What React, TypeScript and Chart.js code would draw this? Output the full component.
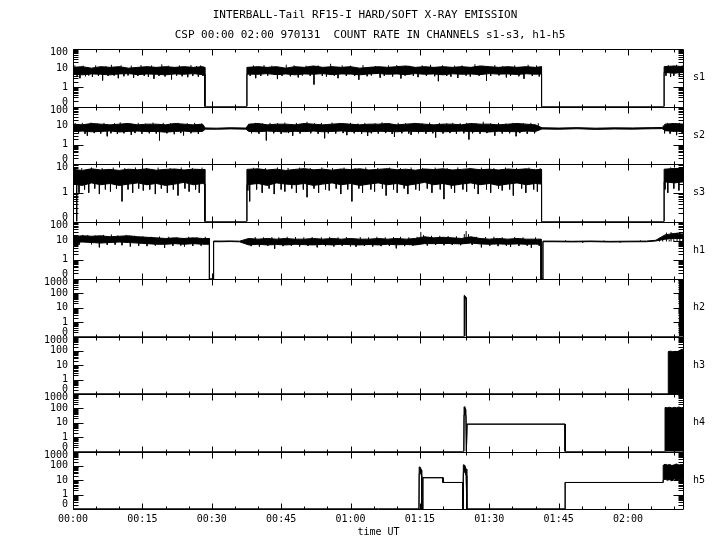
import React, { useEffect, useRef } from "react";
import { Chart, registerables } from "chart.js";

Chart.register(...registerables);

const FONT = "'DejaVu Sans Mono', 'Liberation Mono', monospace";

const TITLE_1 = "INTERBALL-Tail RF15-I HARD/SOFT X-RAY EMISSION";
const TITLE_2 = "CSP 00:00 02:00 970131  COUNT RATE IN CHANNELS s1-s3, h1-h5";
const X_TITLE = "time UT";

// x axis: minutes after 00:00 UT
const xTicks = [0, 15, 30, 45, 60, 75, 90, 105, 120];
const xTickLabels = ["00:00", "00:15", "00:30", "00:45", "01:00", "01:15", "01:30", "01:45", "02:00"];
const X_MAX = 132.1;

// channel names and their log10 axis ranges (min -1 stands for the "0" level)
const channelNames = ["s1", "s2", "s3", "h1", "h2", "h3", "h4", "h5"];
const axisMin = [-1, -1, -1, -1, -1, -1, -1, -1];
const axisMax = [2, 2, 1, 2, 3, 3, 3, 3];

// ---- s1 ----
const s1Time = [0, 2, 4, 6, 8, 10, 12, 14, 16, 18, 20, 22, 24, 26, 28, 28.5, 28.5, 37.6, 37.6, 40, 42, 44, 46, 48, 50, 52, 54, 56, 58, 60, 62, 64, 66, 68, 70, 72, 74, 76, 78, 80, 82, 84, 86, 88, 90, 92, 94, 96, 98, 100, 101.3, 101.3, 127.8, 127.8, 130, 132.1];
const s1High = [11, 12, 10, 12, 11, 12, 10, 11, 12, 11, 12, 11, 12, 11, 12, 11, 0, 0, 11, 12, 11, 12, 10, 12, 11, 13, 11, 12, 11, 12, 10, 11, 12, 11, 12, 13, 11, 12, 11, 12, 11, 12, 11, 13, 12, 11, 12, 11, 12, 11, 12, 0, 0, 12, 13, 12];
const s1Low = [5, 4.5, 5, 4.8, 4.5, 5, 5.2, 4.6, 5, 4.8, 4.5, 5, 4.8, 5.2, 4.6, 5, 0, 0, 5, 4.8, 5.2, 4.6, 5, 4.5, 5, 4.8, 5.2, 4.6, 5, 4.9, 4.5, 5, 5.3, 4.8, 5, 4.6, 5.2, 4.8, 5, 4.5, 5.1, 4.8, 5, 4.6, 5.2, 4.9, 5, 4.7, 5.1, 4.8, 5, 0, 0, 6, 5.5, 6];
// single-sample excursions: [minute, count rate]
const s1Spikes: [number, number][] = [
  [0.4, 14], [0.9, 4], [1.5, 3], [2.2, 13.5], [2.7, 3.8], [3.4, 4.2], [4.2, 3.5], [4.9, 14], [5.5, 4], [6.4, 2.3],
  [7.1, 13], [7.6, 3.9], [8.3, 15], [8.9, 4.1], [9.8, 3], [10.4, 14], [11.0, 3.8], [11.9, 4.2], [12.6, 13.5], [13.1, 3.2],
  [14.0, 3.9], [14.7, 14.5], [15.4, 4], [16.3, 3.6], [17.0, 14], [17.5, 2.8], [18.6, 4], [19.2, 16], [19.9, 3.7], [20.6, 13.5],
  [21.3, 2.6], [22.4, 4.1], [23.0, 14], [23.6, 3.8], [24.8, 3.4], [25.5, 14.5], [25.9, 4], [26.7, 13], [27.1, 3.6], [27.6, 14], [28.1, 3.9],
  [38.3, 4], [39.0, 14], [39.5, 3], [40.6, 3.9], [41.3, 14.5], [42.1, 4.1], [43.0, 13.5], [44.2, 2.7], [45.2, 4], [46.1, 15],
  [47.0, 3.8], [47.8, 14], [48.7, 3.3], [49.6, 4.2], [50.4, 13.5], [51.3, 3.9], [52.1, 1.4], [53.0, 14], [53.9, 4], [54.8, 3.7],
  [55.7, 17], [56.5, 4.1], [57.3, 3], [58.2, 14], [59.1, 3.9], [60.0, 13.5], [60.9, 4], [61.8, 2.5], [62.7, 14.5], [63.6, 3.8],
  [64.5, 4.2], [65.4, 13], [66.4, 3.2], [67.3, 4], [68.2, 14], [69.1, 3.7], [70.0, 14.5], [70.9, 2.9], [71.8, 4.1], [72.7, 13.5],
  [73.6, 3.9], [74.6, 3.4], [75.5, 14], [76.4, 4], [77.3, 15], [78.2, 3.8], [79.0, 2.1], [79.9, 14], [80.8, 4], [81.7, 3.6],
  [82.5, 13.5], [83.2, 3.1], [84.1, 14], [85.0, 4.1], [85.9, 3.7], [86.9, 16], [87.8, 4], [88.6, 13.5], [89.4, 2.2], [90.3, 3.9],
  [91.2, 14.5], [92.1, 4.2], [92.9, 13], [93.7, 3.3], [94.6, 4], [95.5, 14], [96.4, 3.8], [97.5, 2.8], [98.4, 15], [99.3, 4],
  [100.2, 14], [100.8, 3.7],
  [128.2, 4], [128.7, 14.5], [129.2, 3.5], [129.9, 4], [130.5, 15], [131.1, 3.8], [131.7, 14],
];
const s1Level = 7;

// ---- s2 ----
const s2Time = [0, 2, 4, 6, 8, 10, 12, 14, 16, 18, 20, 22, 24, 26, 28, 28.6, 31, 34, 37.4, 38, 40, 42, 44, 46, 48, 50, 52, 54, 56, 58, 60, 62, 64, 66, 68, 70, 72, 74, 76, 78, 80, 82, 84, 86, 88, 90, 92, 94, 96, 98, 100, 101.4, 105, 109, 113, 117, 121, 125, 127.4, 128, 130, 132.1];
const s2High = [12, 11, 13, 12, 11, 12, 13, 11, 12, 12, 11, 13, 12, 11, 12, 7.6, 7.4, 7.8, 7.5, 12, 13, 11, 12, 12, 11, 13, 12, 11, 12, 13, 12, 11, 12, 12, 13, 11, 12, 13, 12, 11, 12, 12, 11, 13, 12, 12, 11, 12, 13, 12, 11, 7.8, 7.5, 7.9, 7.4, 7.7, 7.6, 7.9, 8, 12, 13, 12];
const s2Low = [5, 5.2, 4.8, 5, 5.3, 4.7, 5, 5.2, 4.9, 5, 4.6, 5, 5.2, 4.8, 5, 6.6, 6.5, 6.8, 6.6, 5, 4.8, 5.2, 5, 4.7, 5.1, 4.9, 5.2, 4.8, 5, 5.3, 4.9, 5, 4.7, 5.1, 5, 4.8, 5.2, 5, 4.9, 5.1, 4.8, 5, 5.2, 4.9, 5, 4.7, 5.1, 5, 4.8, 5.2, 5, 6.7, 6.5, 6.9, 6.4, 6.7, 6.6, 6.9, 7, 5.5, 5, 5.5];
const s2Spikes: [number, number][] = [
  [0.5, 13.5], [1.2, 4], [2.0, 14], [2.6, 3.8], [3.1, 3], [3.9, 14.5], [4.6, 4.1], [5.3, 13], [6.0, 3.9], [6.7, 14],
  [7.4, 2.8], [8.2, 4], [9.0, 13.5], [9.6, 3.7], [10.2, 15], [11.0, 4], [11.8, 13.5], [12.6, 3.3], [13.4, 4.1], [14.1, 14],
  [14.9, 3.8], [15.7, 13], [16.5, 4], [17.3, 14.5], [18.0, 3.9], [18.7, 1.7], [19.5, 14], [20.3, 4], [21.1, 13.5], [21.9, 3.6],
  [22.7, 14], [23.3, 4.1], [23.9, 3.1], [24.7, 13.5], [25.5, 4], [26.3, 14], [27.1, 3.8], [27.8, 13],
  [38.6, 4], [39.4, 14], [40.2, 3.8], [41.0, 13.5], [41.8, 1.7], [42.6, 14], [43.4, 4], [44.2, 13.5], [45.0, 3.7], [45.8, 14.5],
  [46.6, 4.1], [47.5, 3], [48.3, 14], [49.1, 3.9], [49.9, 13], [50.6, 16], [51.4, 4], [52.2, 13.5], [53.0, 3.8], [53.7, 14],
  [54.4, 2.2], [55.2, 4], [56.0, 14.5], [56.8, 3.9], [57.6, 13.5], [58.4, 4.1], [59.2, 3.2], [60.0, 14], [60.8, 4], [61.6, 13],
  [62.4, 3.8], [63.1, 14], [63.7, 2.9], [64.5, 4], [65.3, 13.5], [66.0, 3.9], [66.8, 15], [67.6, 4.1], [68.4, 13.5], [69.0, 3.7],
  [69.5, 2.6], [70.3, 14], [71.1, 4], [71.9, 13.5], [72.6, 3.9], [73.1, 3.3], [73.9, 14], [74.7, 4], [75.5, 13], [76.3, 3.8],
  [77.1, 14.5], [77.8, 4], [78.4, 2.4], [79.2, 14], [80.0, 3.9], [80.8, 13.5], [81.5, 4.1], [82.1, 14], [82.9, 3.8], [83.7, 13.5],
  [84.5, 4], [85.1, 14], [85.6, 1.9], [86.4, 4], [87.2, 13.5], [88.0, 3.8], [88.7, 16], [89.5, 4.1], [90.3, 13.5], [91.2, 3],
  [92.0, 14], [92.8, 3.9], [93.6, 13], [94.4, 4], [95.1, 14], [95.8, 2.8], [96.6, 4.1], [97.4, 13.5], [98.2, 3.8], [99.0, 14],
  [99.8, 4], [100.6, 13.5],
  [127.9, 4], [128.5, 14], [129.1, 3.8], [129.7, 13.5], [130.5, 3.2], [131.1, 14], [131.7, 4],
];
const s2Level = 7;

// ---- s3 ----
const s3Time = [0, 2, 4, 6, 8, 10, 12, 14, 16, 18, 20, 22, 24, 26, 28, 28.5, 28.5, 37.6, 37.6, 40, 42, 44, 46, 48, 50, 52, 54, 56, 58, 60, 62, 64, 66, 68, 70, 72, 74, 76, 78, 80, 82, 84, 86, 88, 90, 92, 94, 96, 98, 100, 101.3, 101.3, 127.8, 127.8, 130, 132.1];
const s3High = [6.5, 6, 6.8, 6.2, 6.5, 6, 6.6, 6.3, 6.8, 6.1, 6.5, 6.7, 6.2, 6.6, 6.4, 6.5, 0, 0, 6.5, 6.8, 6.2, 6.6, 6, 6.5, 6.9, 6.3, 6.6, 6.1, 6.7, 6.4, 6.8, 6.2, 6.5, 6.9, 6.3, 6.6, 6.1, 6.7, 6.4, 6.8, 6.2, 6.5, 6.9, 6.3, 6.6, 6.2, 6.7, 6.4, 6.8, 6.3, 6.5, 0, 0, 6.6, 7, 6.8];
const s3Low = [2, 1.8, 2.2, 1.9, 2.1, 1.8, 2, 2.2, 1.9, 2.1, 1.8, 2, 2.3, 1.9, 2.1, 2, 0, 0, 1.9, 2.1, 1.8, 2.2, 2, 1.9, 2.1, 1.8, 2, 2.2, 1.9, 2.1, 1.8, 2, 2.2, 1.9, 2.1, 1.8, 2, 2.3, 1.9, 2.1, 1.8, 2, 2.2, 1.9, 2.1, 1.8, 2, 2.2, 1.9, 2.1, 2, 0, 0, 2.4, 2.2, 2.4];
const s3Spikes: [number, number][] = [
  [0.4, 7.5], [0.8, 0], [1.3, 1], [1.9, 7.2], [2.5, 1.3], [3.4, 1], [4.0, 7.6], [4.7, 1.4], [5.7, 0.9], [6.3, 7.3],
  [7.0, 1.3], [8.1, 1.1], [8.7, 7.5], [9.4, 1.4], [10.6, 0.5], [11.2, 7.2], [11.9, 1.3], [12.9, 1], [13.5, 7.6], [14.2, 1.4],
  [15.2, 1.2], [15.9, 7.3], [16.6, 1.3], [17.8, 0.9], [18.4, 7.5], [19.1, 1.4], [20.4, 1], [21.0, 7.2], [21.7, 1.3], [22.7, 0.8],
  [23.4, 7.6], [24.2, 1.4], [25.1, 1.1], [25.8, 7.3], [26.5, 1.3], [27.3, 1], [27.9, 7.5],
  [37.8, 1.2], [38.2, 0.5], [39.0, 7.4], [39.7, 1.3], [40.9, 1], [41.6, 7.2], [42.4, 1.4], [43.5, 0.9], [44.2, 7.6], [45.0, 1.3],
  [45.8, 1.1], [46.5, 7.3], [47.3, 1.4], [48.3, 1], [49.0, 7.5], [49.8, 1.3], [50.6, 0.7], [51.3, 7.2], [52.1, 1.4], [53.1, 1],
  [53.8, 7.6], [54.6, 1.3], [55.4, 1.2], [56.1, 7.3], [56.9, 1.4], [57.9, 0.9], [58.6, 7.5], [59.4, 1.3], [60.3, 0.5], [61.0, 7.2],
  [61.8, 1.4], [62.6, 1], [63.3, 7.6], [64.4, 1.3], [65.2, 1.1], [65.9, 7.3], [66.9, 1.4], [67.7, 0.8], [68.4, 7.5], [69.3, 1.3],
  [70.1, 1], [70.8, 7.2], [71.6, 1.4], [72.4, 0.9], [73.1, 7.6], [74.1, 1.3], [74.9, 1.2], [75.6, 7.3], [76.6, 1.4], [77.6, 1],
  [78.3, 7.5], [79.4, 1.3], [80.2, 0.6], [80.9, 7.2], [81.8, 1.4], [82.5, 1], [83.2, 7.6], [84.3, 1.3], [85.1, 1.1], [85.8, 7.3],
  [86.8, 1.4], [87.6, 0.9], [88.3, 7.5], [89.4, 1.3], [90.3, 1], [91.0, 7.2], [92.0, 1.4], [92.8, 1.2], [93.5, 7.6], [94.4, 1.3],
  [95.2, 0.8], [95.9, 7.3], [97.0, 1.4], [97.9, 1], [98.6, 7.5], [99.6, 1.3], [100.4, 1.1], [101.0, 7.2],
  [128.0, 1.3], [128.6, 1], [129.2, 7.6], [129.9, 1.4], [130.5, 7.3], [131.0, 1.2], [131.6, 7.5],
];
const s3Level = 3.5;

// ---- h1 ----
const h1Time = [0, 2, 4, 6, 8, 10, 12, 14, 16, 18, 20, 22, 24, 26, 28, 29.5, 29.5, 30.4, 30.4, 32, 34, 36, 38, 40, 42, 44, 46, 48, 50, 52, 54, 56, 58, 60, 62, 64, 66, 68, 70, 72, 74, 76, 78, 80, 82, 84, 86, 88, 90, 92, 94, 96, 98, 100, 101.2, 101.2, 101.6, 101.6, 104, 108, 112, 116, 120, 124, 126, 128, 130, 132.1];
const h1High = [16, 18, 17, 18, 16, 17, 18, 16, 15, 14, 13, 14, 13, 14, 13, 13, 0, 0, 9.6, 9.5, 9.7, 9.4, 13, 12, 13, 12, 13, 12, 12, 13, 12, 13, 12, 13, 12, 12, 13, 12, 13, 12, 13, 16, 14, 15, 14, 13, 16, 13, 12, 13, 12, 13, 12, 12, 12, 0, 0, 9.5, 9.5, 9.3, 9.6, 9.2, 9.4, 9.5, 10.5, 20, 24, 22];
const h1Low = [8, 8.5, 8, 7.5, 8, 8.5, 8, 7.5, 7, 6.5, 6.5, 7, 6.5, 7, 6.5, 6.5, 0, 0, 8.8, 8.8, 9, 8.7, 6, 6.5, 6, 6.3, 6, 6.5, 6.2, 6, 6.4, 6, 6.5, 6.2, 6, 6.3, 6, 6.5, 6.1, 6.3, 6, 7, 7, 7.2, 7, 6.8, 7.5, 6.8, 6.5, 6.8, 6.5, 6.8, 6.5, 6.6, 6.5, 0, 0, 8.8, 8.8, 8.6, 8.9, 8.5, 8.7, 8.8, 9.6, 12, 13, 13];
const h1Spikes: [number, number][] = [
  [0.5, 19], [1.3, 6], [2.1, 20], [3.2, 20], [4.0, 6.5], [4.8, 19], [5.7, 4.5], [6.6, 20], [7.4, 6], [8.3, 21],
  [9.1, 6.2], [9.7, 19], [10.6, 5.8], [11.5, 20], [12.4, 5], [13.3, 18], [14.2, 5.5], [15.1, 17], [16.0, 5.2], [16.9, 16],
  [17.8, 5.6], [18.7, 16.5], [19.8, 4.2], [20.7, 16], [21.6, 5.4], [22.5, 15.5], [23.3, 5.6], [24.1, 5], [25.0, 16], [25.9, 5.3],
  [26.8, 15.5], [27.7, 5.5], [28.6, 16],
  [38.5, 5.2], [39.4, 15.5], [40.3, 5], [41.2, 15], [42.1, 5.4], [43.0, 15.5], [43.6, 3.8], [44.5, 15], [45.4, 5.2], [46.3, 16],
  [47.2, 5.5], [48.1, 15.5], [49.0, 5], [49.9, 15], [50.8, 5.3], [51.7, 15.5], [52.8, 4.5], [53.7, 15], [54.6, 5.2], [55.5, 16],
  [56.4, 5], [57.3, 15], [58.2, 5.4], [59.1, 15.5], [60.0, 5.1], [61.2, 4.8], [62.1, 15.5], [63.0, 5.3], [63.9, 15], [64.8, 5],
  [65.7, 16], [66.6, 5.2], [67.5, 15], [68.4, 5.4], [69.3, 15.5], [69.9, 4], [70.8, 16], [71.7, 5.2], [72.6, 15], [73.5, 5.5],
  [74.4, 16], [75.2, 28], [75.8, 20], [76.6, 5.6], [77.5, 18], [78.4, 6], [79.3, 18], [80.2, 5.8], [81.1, 17.5], [82.0, 6],
  [82.9, 17], [83.8, 5.8], [84.6, 22], [85.0, 32], [85.5, 22], [86.3, 6], [87.2, 16], [88.3, 4.5], [89.2, 15.5], [90.1, 5.5],
  [91.0, 16], [91.9, 5.2], [92.8, 15], [93.7, 5.5], [94.6, 4.8], [95.5, 15.5], [96.4, 5.3], [97.3, 15], [98.2, 5.5], [99.1, 4.3],
  [100.0, 15], [100.8, 5.4],
  [106.5, 10.5], [110.2, 8], [114.8, 10.2], [118.3, 8.2], [122.7, 10.4],
  [126.8, 14], [127.5, 12], [128.3, 26], [128.9, 11], [129.3, 28], [129.9, 12], [130.6, 27], [131.2, 27], [131.8, 12],
];
const h1Level = 9;

// ---- h2 ----
const h2Time = [0, 84.55, 84.6, 84.8, 85.0, 85.05, 131.1, 131.1, 131.4, 131.7, 132.1];
const h2High = [0, 0, 75, 65, 50, 0, 0, 500, 450, 550, 500];
const h2Low = [0, 0, 60, 45, 35, 0, 0, 0, 0, 0, 0];

// ---- h3 ----
const h3Time = [0, 128.7, 128.7, 129.2, 129.7, 130.2, 130.7, 131.2, 131.7, 132.1];
const h3High = [0, 0, 90, 95, 88, 92, 90, 110, 130, 120];
const h3Low = [0, 0, 0, 0, 0, 0, 0, 0, 0, 0];

// ---- h4 ----
const h4Time = [0, 84.5, 84.55, 84.75, 84.95, 85.05, 85.15, 85.2, 106.4, 106.4, 128.0, 128.0, 128.5, 129.0, 129.5, 130.0, 130.5, 131.0, 131.5, 132.1];
const h4High = [0, 0, 130, 115, 80, 0, 0, 8, 8, 0, 0, 115, 110, 120, 105, 118, 112, 125, 110, 120];
const h4Low = [0, 0, 35, 40, 30, 0, 0, 8, 8, 0, 0, 0, 0, 0, 0, 0, 0, 0, 0, 0];

// ---- h5 ----
const h5Time = [0, 74.8, 74.85, 75.1, 75.35, 75.4, 75.6, 75.65, 80.0, 80.0, 84.3, 84.3, 84.4, 84.7, 85.0, 85.15, 106.4, 106.4, 127.6, 127.6, 128.0, 128.5, 129.0, 129.5, 130.0, 130.5, 131.0, 131.5, 132.1];
const h5High = [0, 0, 85, 80, 50, 0, 0, 15, 15, 7, 7, 0, 120, 110, 60, 0, 0, 7, 7, 110, 130, 115, 125, 105, 120, 135, 115, 125, 120];
const h5Low = [0, 0, 30, 35, 20, 0, 0, 15, 15, 7, 7, 0, 30, 40, 20, 0, 0, 7, 7, 10, 12, 10, 11, 9, 12, 10, 11, 10, 12];

const noSpikes: [number, number][] = [];

type Panel = {
  name: string; min: number; max: number;
  time: number[]; high: number[]; low: number[];
  spikes: [number, number][]; level: number;
};

const panels: Panel[] = [
  { name: channelNames[0], min: axisMin[0], max: axisMax[0], time: s1Time, high: s1High, low: s1Low, spikes: s1Spikes, level: s1Level },
  { name: channelNames[1], min: axisMin[1], max: axisMax[1], time: s2Time, high: s2High, low: s2Low, spikes: s2Spikes, level: s2Level },
  { name: channelNames[2], min: axisMin[2], max: axisMax[2], time: s3Time, high: s3High, low: s3Low, spikes: s3Spikes, level: s3Level },
  { name: channelNames[3], min: axisMin[3], max: axisMax[3], time: h1Time, high: h1High, low: h1Low, spikes: h1Spikes, level: h1Level },
  { name: channelNames[4], min: axisMin[4], max: axisMax[4], time: h2Time, high: h2High, low: h2Low, spikes: noSpikes, level: 0 },
  { name: channelNames[5], min: axisMin[5], max: axisMax[5], time: h3Time, high: h3High, low: h3Low, spikes: noSpikes, level: 0 },
  { name: channelNames[6], min: axisMin[6], max: axisMax[6], time: h4Time, high: h4High, low: h4Low, spikes: noSpikes, level: 0 },
  { name: channelNames[7], min: axisMin[7], max: axisMax[7], time: h5Time, high: h5High, low: h5Low, spikes: noSpikes, level: 0 },
];

// count rate -> plotted log10 value; zero counts sit on the "0" level
const toLog = (v: number) => (v > 0 ? Math.max(-1, Math.log10(v)) : -1);

const PANEL_PX = 57.5;
const labelValues = (p: Panel) => {
  const per = (p.max - p.min) / PANEL_PX;
  const vals = [p.min + 4.5 * per];
  for (let d = p.min + 1; d < p.max; d++) vals.push(d);
  vals.push(p.max - 3.5 * per);
  return vals;
};
const labelText = (v: number, p: Panel) =>
  v < p.min + 0.5 ? "0" : String(Math.round(Math.pow(10, Math.round(v))));

function buildDatasets() {
  const ds: any[] = [];
  panels.forEach((p, i) => {
    const yAxisID = "y" + i;
    ds.push({
      type: "line", yAxisID,
      data: p.time.map((t, j) => ({ x: t, y: toLog(p.high[j]) })),
      borderColor: "#000", borderWidth: 1, pointRadius: 0, fill: false, tension: 0,
    });
    ds.push({
      type: "line", yAxisID,
      data: p.time.map((t, j) => ({ x: t, y: toLog(p.low[j]) })),
      borderColor: "#000", borderWidth: 1, pointRadius: 0, fill: "-1", backgroundColor: "#000", tension: 0,
    });
    if (p.spikes.length) {
      const pts: any[] = [];
      p.spikes.forEach(([t, v]) => {
        pts.push({ x: t, y: toLog(p.level) });
        pts.push({ x: t, y: toLog(v) });
        pts.push({ x: t, y: null });
      });
      ds.push({
        type: "line", yAxisID, data: pts, spanGaps: false,
        borderColor: "#000", borderWidth: 1, pointRadius: 0, fill: false, tension: 0,
      });
    }
  });
  return ds;
}

function buildScales() {
  const scales: any = {
    x: {
      type: "linear", position: "bottom", min: 0, max: X_MAX,
      grid: { display: false, drawTicks: false }, border: { display: false },
      afterBuildTicks: (s: any) => { s.ticks = xTicks.map((v) => ({ value: v })); },
      ticks: {
        autoSkip: false, maxRotation: 0, padding: 4, color: "#000",
        font: { family: FONT, size: 10 },
        callback: (v: any) => { const k = xTicks.indexOf(Number(v)); return k >= 0 ? xTickLabels[k] : ""; },
      },
      title: { display: true, text: X_TITLE, color: "#000", font: { family: FONT, size: 10 }, padding: { top: 0, bottom: 12 } },
      afterFit: (s: any) => { s.height = 41; },
    },
  };
  panels.forEach((p, i) => {
    scales["y" + i] = {
      type: "linear", position: "left", stack: "panels", stackWeight: 1, weight: panels.length - i,
      min: p.min, max: p.max,
      grid: { display: false, drawTicks: false }, border: { display: false },
      afterBuildTicks: (s: any) => { s.ticks = labelValues(p).map((v) => ({ value: v })); },
      ticks: {
        autoSkip: false, padding: 5, color: "#000",
        font: { family: FONT, size: 10 },
        callback: (v: any) => labelText(Number(v), p),
      },
      afterFit: (s: any) => { s.width = 73; },
    };
  });
  return scales;
}

const framePlugin = {
  id: "frames",
  afterDraw(chart: any) {
    const ctx = chart.ctx;
    const { left, right } = chart.chartArea;
    const xs = chart.scales.x;
    ctx.save();
    ctx.strokeStyle = "#000";
    ctx.fillStyle = "#000";
    ctx.lineWidth = 1;
    const L = Math.round(left) + 0.5;
    const R = Math.round(right) - 0.5;
    panels.forEach((p, i) => {
      const ys = chart.scales["y" + i];
      const top = Math.round(ys.top) + 0.5;
      const bottom = Math.round(ys.bottom) + 0.5;
      ctx.beginPath();
      ctx.rect(L, top, R - L, bottom - top);
      for (let d = p.min; d < p.max; d++) {
        for (let k = 2; k <= 9; k++) {
          const y = Math.round(ys.getPixelForValue(d + Math.log10(k))) + 0.5;
          ctx.moveTo(L, y); ctx.lineTo(L + 5, y);
          ctx.moveTo(R, y); ctx.lineTo(R - 5, y);
        }
        if (d > p.min) {
          const y = Math.round(ys.getPixelForValue(d)) + 0.5;
          ctx.moveTo(L, y); ctx.lineTo(L + 10, y);
          ctx.moveTo(R, y); ctx.lineTo(R - 10, y);
        }
      }
      for (let t = 0; t <= X_MAX; t += 5) {
        const x = Math.round(xs.getPixelForValue(t)) + 0.5;
        const len = t % 15 === 0 ? 6 : 3;
        ctx.moveTo(x, top); ctx.lineTo(x, top + len);
        ctx.moveTo(x, bottom); ctx.lineTo(x, bottom - len);
      }
      ctx.stroke();
      ctx.font = `10px ${FONT}`;
      ctx.textAlign = "left";
      ctx.textBaseline = "middle";
      ctx.fillText(p.name, right + 9, (ys.top + ys.bottom) / 2);
    });
    ctx.font = `11px ${FONT}`;
    ctx.textAlign = "center";
    ctx.textBaseline = "middle";
    ctx.fillText(TITLE_1, 365, 15);
    ctx.fillText(TITLE_2, 370, 35);
    ctx.restore();
  },
};

export default function App() {
  const ref = useRef<HTMLCanvasElement>(null);
  useEffect(() => {
    if (!ref.current) return;
    const chart = new Chart(ref.current, {
      type: "line",
      data: { datasets: buildDatasets() },
      options: {
        responsive: false,
        animation: false,
        devicePixelRatio: 1,
        layout: { padding: { top: 49, right: 36, left: 0, bottom: 0 } },
        plugins: { legend: { display: false }, tooltip: { enabled: false }, title: { display: false } },
        elements: { point: { radius: 0 }, line: { tension: 0 } },
        scales: buildScales(),
      } as any,
      plugins: [framePlugin],
    });
    return () => chart.destroy();
  }, []);
  return (
    <div style={{ position: "absolute", left: 0, top: 0, width: 720, height: 550, background: "#fff" }}>
      <canvas ref={ref} width={720} height={550} style={{ display: "block" }} />
    </div>
  );
}
